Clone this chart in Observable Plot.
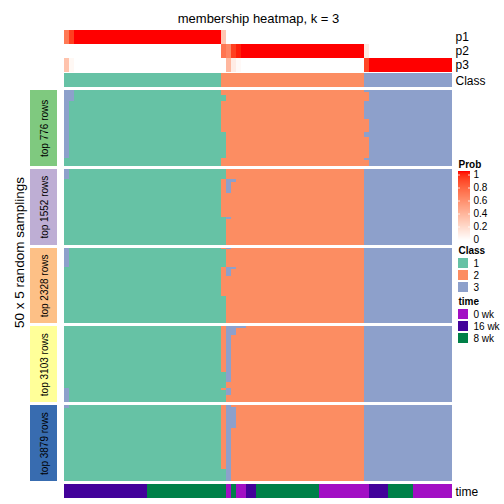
<!DOCTYPE html>
<html><head><meta charset="utf-8">
<script src="https://cdn.jsdelivr.net/npm/d3@7"></script>
<script src="https://cdn.jsdelivr.net/npm/@observablehq/plot@0.6"></script>
<style>body{margin:0;background:#fff}</style>
</head><body><div id="chart"></div>
<script>
// ---------- data ----------
const colClass = [
 1,1,1,1,1,1,1,1,1,1, 1,1,1,1,1,1,1,1,1,1, 1,1,1,1,1,1,1,1,1,1,
 1,1,2,2,2,2,2,2,2,2, 2,2,2,2,2,2,2,2,2,2, 2,2,2,2,2,2,2,2,2,2,
 2,3,3,3,3,3,3,3,3,3, 3,3,3,3,3,3,3,3,3];
const p1 = [
 0.68,0.9,1,1,1,1,1,1,1,1, 1,1,1,1,1,1,1,1,1,1, 1,1,1,1,1,1,1,1,1,1,
 1,1,0.3,0,0,0,0,0,0,0, 0,0,0,0,0,0,0,0,0,0, 0,0,0,0,0,0,0,0,0,0,
 0,0,0,0,0,0,0,0,0,0, 0,0,0,0,0,0,0,0,0];
const p2 = [
 0,0,0,0,0,0,0,0,0,0, 0,0,0,0,0,0,0,0,0,0, 0,0,0,0,0,0,0,0,0,0,
 0,0,0.7,0.62,0.9,0.97,1,1,1,1, 1,1,1,1,1,1,1,1,1,1, 1,1,1,1,1,1,1,1,1,1,
 1,0.12,0,0,0,0,0,0,0,0, 0,0,0,0,0,0,0,0,0];
const p3 = [
 0.32,0.04,0,0,0,0,0,0,0,0, 0,0,0,0,0,0,0,0,0,0, 0,0,0,0,0,0,0,0,0,0,
 0,0,0,0.38,0.1,0.03,0,0,0,0, 0,0,0,0,0,0,0,0,0,0, 0,0,0,0,0,0,0,0,0,0,
 0,0.88,1,1,1,1,1,1,1,1, 1,1,1,1,1,1,1,1,1];
const timeOf = [
 "16 wk","16 wk","16 wk","16 wk","16 wk","16 wk","16 wk","16 wk","16 wk","16 wk",
 "16 wk","16 wk","16 wk","16 wk","16 wk","16 wk","16 wk","8 wk","8 wk","8 wk",
 "8 wk","8 wk","8 wk","8 wk","8 wk","8 wk","8 wk","8 wk","8 wk","8 wk",
 "8 wk","8 wk","8 wk","0 wk","8 wk","0 wk","0 wk","16 wk","16 wk","8 wk",
 "8 wk","8 wk","8 wk","8 wk","8 wk","8 wk","8 wk","8 wk","8 wk","8 wk",
 "8 wk","8 wk","0 wk","0 wk","0 wk","0 wk","0 wk","0 wk","0 wk","0 wk",
 "0 wk","0 wk","16 wk","16 wk","16 wk","16 wk","8 wk","8 wk","8 wk","8 wk",
 "8 wk","0 wk","0 wk","0 wk","0 wk","0 wk","0 wk","0 wk","0 wk"];
const blockLabels = ["top 776 rows","top 1552 rows","top 2328 rows","top 3103 rows","top 3879 rows"];
const blockColors = ["#7FC97F","#BEAED4","#FDC086","#FFFF99","#386CB0"];
const classLevels = [1,2,3];
const classColors = ["#66C2A5","#FC8D62","#8DA0CB"];
const timeLevels = ["0 wk","16 wk","8 wk"];
const timeColors = ["#A20FC4","#43029A","#008048"];
const probTicks = [0,0.2,0.4,0.6,0.8,1];
const nRows = 50;
// per-sampling deviations from the consensus class: [block,rowFrom,rowTo,colFrom,colTo,class]
const overrides = [
 [0,0,6,0,1,3],[0,7,44,0,0,3],[0,3,6,32,32,1],[0,28,44,32,32,1],
 [0,1,6,61,61,2],[0,19,27,61,61,2],[0,31,44,61,61,2],[0,46,49,61,61,2],
 [1,0,6,0,0,3],[1,0,6,32,32,1],[1,32,49,32,32,1],[1,7,8,33,34,3],[1,9,15,33,33,3],[1,32,32,33,33,3],
 [2,0,12,0,0,3],[2,0,0,33,33,3],[2,1,12,32,32,1],[2,32,49,32,32,1],[2,13,13,33,34,3],[2,14,18,33,33,3],
 [3,41,49,0,0,3],[3,0,0,33,36,3],[3,1,5,33,34,3],[3,6,29,33,33,3],[3,30,49,32,32,1],[3,41,41,32,32,2],
 [3,30,36,33,33,3],[3,41,44,33,33,3],
 [4,0,1,0,0,3],[4,42,49,32,32,1],[4,0,49,33,33,3],[4,1,14,34,34,3]
];

// ---------- scales ----------
const nCols = colClass.length;
const colX = d3.scaleLinear([0,nCols],[64,452]);
const cx = i => Math.round(colX(i));
const classColor = d3.scaleOrdinal(classLevels, classColors);
const timeColor = d3.scaleOrdinal(timeLevels, timeColors);
const probColor = d3.scaleLinear([0,1],["white","red"]).interpolate(d3.interpolateLab);
const blockTops = [90,168.8,247.6,326.4,405.2];
const blockH = 75.7;

// ---------- cells ----------
const topTracks = [
 {name:"p1", vals:p1, y1:30, y2:44},
 {name:"p2", vals:p2, y1:44, y2:58},
 {name:"p3", vals:p3, y1:58, y2:72}
];
const probCells = [];
for (const t of topTracks) t.vals.forEach((v,i)=>probCells.push({x1:cx(i),x2:cx(i+1),y1:t.y1,y2:t.y2,fill:probColor(v)}));
const classCells = colClass.map((c,i)=>({x1:cx(i),x2:cx(i+1),y1:73,y2:87,fill:classColor(c)}));
const timeCells = timeOf.map((t,i)=>({x1:cx(i),x2:cx(i+1),y1:484,y2:498,fill:timeColor(t)}));

const memberCells = [];
blockTops.forEach((top,b)=>{
  const rowY = d3.scaleLinear([0,nRows],[top, top+blockH]);
  const ry = r => Math.round(rowY(r));
  const grid = d3.range(nRows).map(()=>colClass.slice());
  for (const [bb,r0,r1,c0,c1,cl] of overrides) if (bb===b)
    for (let r=r0;r<=r1;r++) for (let c=c0;c<=c1;c++) grid[r][c]=cl;
  grid.forEach((row,r)=>{
    let s=0;
    for (let c=1;c<=nCols;c++){
      if (c===nCols || row[c]!==row[s]){
        memberCells.push({x1:cx(s),x2:cx(c),y1:ry(r),y2:ry(r+1),fill:classColor(row[s])});
        s=c;
      }
    }
  });
});
const blockBoxes = blockTops.map((top,b)=>({x1:30,x2:57,y1:Math.round(top),y2:Math.round(top+blockH),fill:blockColors[b],label:blockLabels[b],cy:top+blockH/2}));

// legend
const gradTop = 171, gradBot = 241;
const gy = d3.scaleLinear([0,1],[gradBot-1.5, gradTop+3.5]);
const gradSlices = d3.range(0,70).map(i=>{const v=1-i/69; return {y1:gradTop+i, y2:gradTop+i+1, fill:probColor(v)};});
const classLegend = classLevels.map((c,i)=>({y:258+i*12, fill:classColor(c), label:String(c)}));
const timeLegend = timeLevels.map((t,i)=>({y:309+i*12, fill:timeColor(t), label:t}));

const font = "'Liberation Sans', Arial, Helvetica, sans-serif";
const crisp = {shapeRendering:"crispEdges"};
const chart = Plot.plot({
  width:504, height:504, margin:0,
  x:{type:"identity", axis:null}, y:{type:"identity", axis:null},
  color:{type:"identity"},
  style:{fontFamily:font, background:"#fff"},
  marks:[
    Plot.rect(probCells,{x1:"x1",x2:"x2",y1:"y1",y2:"y2",fill:"fill",...crisp}),
    Plot.rect(classCells,{x1:"x1",x2:"x2",y1:"y1",y2:"y2",fill:"fill",...crisp}),
    Plot.rect(memberCells,{x1:"x1",x2:"x2",y1:"y1",y2:"y2",fill:"fill",...crisp}),
    Plot.rect(timeCells,{x1:"x1",x2:"x2",y1:"y1",y2:"y2",fill:"fill",...crisp}),
    Plot.rect(blockBoxes,{x1:"x1",x2:"x2",y1:"y1",y2:"y2",fill:"fill",...crisp}),
    Plot.text(blockBoxes,{x:44,y:"cy",text:"label",rotate:-90,fontSize:10,fill:"black"}),
    Plot.text(["50 x 5 random samplings"],{x:19,y:252,text:d=>d,rotate:-90,fontSize:13.5,fill:"black"}),
    Plot.text(["membership heatmap, k = 3"],{x:258,y:18,text:d=>d,fontSize:13,fill:"black"}),
    Plot.text([...topTracks.map(t=>({l:t.name,y:(t.y1+t.y2)/2})),{l:"Class",y:80.5},{l:"time",y:491.5}],
      {x:455,y:"y",text:"l",textAnchor:"start",fontSize:12,fill:"black"}),
    // legends
    Plot.text(["Prob"],{x:458,y:164,text:d=>d,textAnchor:"start",fontSize:10,fontWeight:"bold",fill:"black"}),
    Plot.rect(gradSlices,{x1:458,x2:470,y1:"y1",y2:"y2",fill:"fill",...crisp}),
    Plot.ruleY(probTicks,{y:d=>gy(d),x1:458,x2:460,stroke:"white",strokeWidth:0.8}),
    Plot.ruleY(probTicks,{y:d=>gy(d),x1:468,x2:470,stroke:"white",strokeWidth:0.8}),
    Plot.text(probTicks,{x:473,y:d=>gy(d),text:d=>String(d),textAnchor:"start",fontSize:10,fill:"black"}),
    Plot.text(["Class"],{x:458,y:250,text:d=>d,textAnchor:"start",fontSize:10,fontWeight:"bold",fill:"black"}),
    Plot.rect(classLegend,{x1:458,x2:468,y1:"y",y2:d=>d.y+10,fill:"fill"}),
    Plot.text(classLegend,{x:473,y:d=>d.y+5,text:"label",textAnchor:"start",fontSize:10,fill:"black"}),
    Plot.text(["time"],{x:458,y:301,text:d=>d,textAnchor:"start",fontSize:10,fontWeight:"bold",fill:"black"}),
    Plot.rect(timeLegend,{x1:458,x2:468,y1:"y",y2:d=>d.y+10,fill:"fill"}),
    Plot.text(timeLegend,{x:473,y:d=>d.y+5,text:"label",textAnchor:"start",fontSize:10,fill:"black"})
  ]
});
document.getElementById("chart").appendChild(chart);
</script></body></html>
